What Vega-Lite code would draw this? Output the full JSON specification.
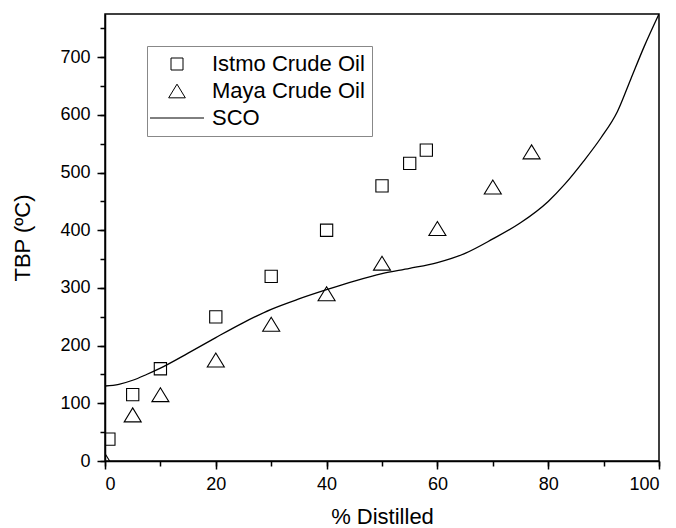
{
  "$schema": "https://vega.github.io/schema/vega-lite/v6.json",
  "width": 554,
  "height": 447,
  "autosize": {"type": "none"},
  "padding": {"left": 105, "top": 14, "right": 17, "bottom": 67},
  "background": "white",
  "config": {
    "view": {"stroke": "black", "strokeWidth": 1.5},
    "font": "Liberation Sans",
    "axis": {
      "domainColor": "black", "domainWidth": 1.5, "tickColor": "black", "tickWidth": 1.5,
      "labelColor": "black", "titleColor": "black", "labelFontSize": 18, "titleFontSize": 22,
      "titleFontWeight": "normal", "grid": false, "labelFont": "Liberation Sans", "titleFont": "Liberation Sans"
    }
  },
  "datasets": {
    "pts": [
      {"series": "Istmo Crude Oil", "x": 0.7, "y": 38},
      {"series": "Istmo Crude Oil", "x": 5, "y": 115},
      {"series": "Istmo Crude Oil", "x": 10, "y": 160},
      {"series": "Istmo Crude Oil", "x": 20, "y": 250},
      {"series": "Istmo Crude Oil", "x": 30, "y": 320},
      {"series": "Istmo Crude Oil", "x": 40, "y": 400},
      {"series": "Istmo Crude Oil", "x": 50, "y": 477},
      {"series": "Istmo Crude Oil", "x": 55, "y": 516},
      {"series": "Istmo Crude Oil", "x": 58, "y": 539},
      {"series": "Maya Crude Oil", "x": 0, "y": 1},
      {"series": "Maya Crude Oil", "x": 5, "y": 80},
      {"series": "Maya Crude Oil", "x": 10, "y": 115},
      {"series": "Maya Crude Oil", "x": 20, "y": 175},
      {"series": "Maya Crude Oil", "x": 30, "y": 237},
      {"series": "Maya Crude Oil", "x": 40, "y": 290},
      {"series": "Maya Crude Oil", "x": 50, "y": 343},
      {"series": "Maya Crude Oil", "x": 60, "y": 403},
      {"series": "Maya Crude Oil", "x": 70, "y": 475},
      {"series": "Maya Crude Oil", "x": 77, "y": 536}
    ],
    "sco": [
      {"x": 0, "y": 130}, {"x": 2.5, "y": 133}, {"x": 5, "y": 140}, {"x": 7.5, "y": 150},
      {"x": 10, "y": 161}, {"x": 15, "y": 187}, {"x": 20, "y": 214}, {"x": 25, "y": 240},
      {"x": 30, "y": 263}, {"x": 35, "y": 281}, {"x": 40, "y": 297}, {"x": 45, "y": 312},
      {"x": 50, "y": 325}, {"x": 55, "y": 334}, {"x": 60, "y": 344}, {"x": 65, "y": 360},
      {"x": 70, "y": 385}, {"x": 75, "y": 413}, {"x": 80, "y": 450}, {"x": 83, "y": 480},
      {"x": 86.4, "y": 520}, {"x": 89.5, "y": 560}, {"x": 92.5, "y": 606}, {"x": 94.9, "y": 662},
      {"x": 97.3, "y": 718}, {"x": 100, "y": 775}
    ]
  },
  "layer": [
    {
      "data": {"name": "sco"},
      "mark": {"type": "line", "color": "black", "strokeWidth": 1.3, "interpolate": "monotone", "clip": true},
      "encoding": {
        "x": {"field": "x", "type": "quantitative", "scale": {"domain": [0, 100], "nice": false},
          "axis": {"orient": "bottom", "values": [0,10,20,30,40,50,60,70,80,90,100], "tickSize": 5, "labels": false, "domain": false, "title": null}},
        "y": {"field": "y", "type": "quantitative", "scale": {"domain": [0, 775], "nice": false},
          "axis": {"orient": "left", "values": [0,50,100,150,200,250,300,350,400,450,500,550,600,650,700,750], "tickSize": 5, "labels": false, "domain": false, "title": null}}
      }
    },
    {
      "data": {"name": "pts"},
      "mark": {"type": "point", "filled": false, "color": "black", "strokeWidth": 1.1, "size": 150, "opacity": 1, "clip": true},
      "encoding": {
        "x": {"field": "x", "type": "quantitative",
          "axis": {"orient": "bottom", "values": [0,20,40,60,80,100], "tickSize": 8, "labelPadding": 6, "title": "% Distilled", "titlePadding": 13}},
        "y": {"field": "y", "type": "quantitative",
          "axis": {"orient": "left", "values": [0,100,200,300,400,500,600,700], "tickSize": 8, "labelPadding": 7, "title": "TBP (ºC)", "titlePadding": 25}},
        "shape": {"field": "series", "type": "nominal",
          "scale": {"domain": ["Istmo Crude Oil", "Maya Crude Oil", "SCO"], "range": ["square", "M0,-1.14L1.39,1.14L-1.39,1.14Z", "M-4.5,0H4.5"]},
          "legend": {"title": null, "orient": "none", "legendX": 42, "legendY": 32,
            "strokeColor": "#888888", "fillColor": "white", "padding": 7,
            "labelFontSize": 22, "labelFont": "Liberation Sans", "labelColor": "black",
            "symbolSize": 144, "symbolStrokeColor": "black", "symbolStrokeWidth": 1, "symbolFillColor": "transparent",
            "symbolOffset": 12, "labelOffset": 24, "rowPadding": 5, "symbolType": "square"}}
      }
    }
  ],
  "resolve": {"axis": {"x": "independent", "y": "independent"}}
}
